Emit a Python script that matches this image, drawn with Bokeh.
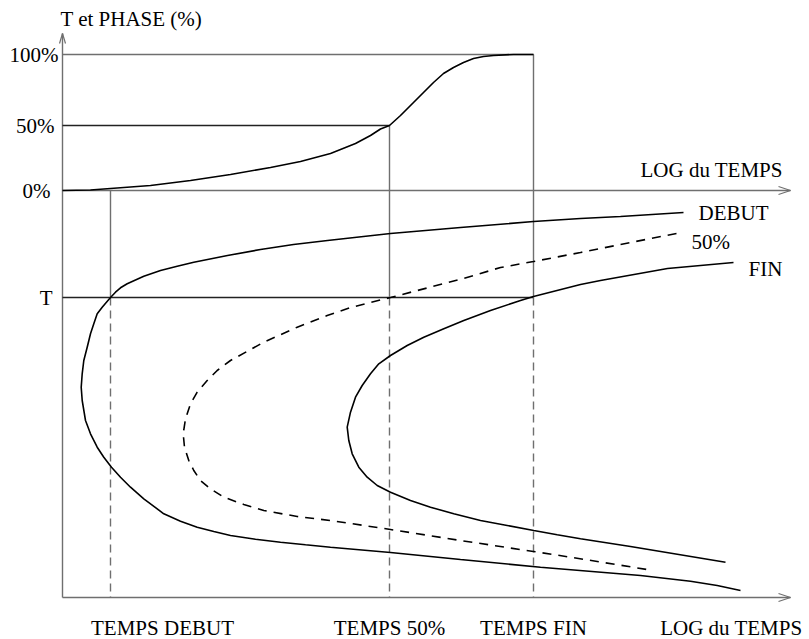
from bokeh.plotting import figure
from bokeh.models import Range1d
from bokeh.core.properties import value
from bokeh.embed import file_html
from bokeh.resources import INLINE

# ---- key levels (arbitrary schematic units: x = log of time, y = level) ----
t_debut, t_50, t_fin = 48, 327, 471          # TEMPS DEBUT / 50% / FIN
lvl_T = 300                                   # temperature T
lvl_0, lvl_50, lvl_100 = 407, 472, 543        # phase 0%, 50%, 100%
x_axis_end = 728
y_axis_end = 564

# ---- phase transformed vs log time at temperature T ----
trans_x = [0, 28, 48, 88, 128, 168, 208, 238, 268, 293, 308, 318, 327, 338, 351, 361, 371, 381, 391,
           401, 411, 421, 431, 451, 471]
trans_y = [407, 407.5, 409, 412, 417, 423, 430, 436, 444, 454, 462, 468.5, 472, 482, 495, 505, 515, 524,
           530, 535, 539, 541, 542, 543, 543]

# ---- TTT curves ----
debut_x = [621, 558, 518, 471, 398, 328, 265, 231, 198, 165, 131.3, 114.7, 98, 81.3, 64.7, 58, 53, 48,
           39.7, 34.7, 31.3, 28, 24.7, 21.3, 19.7, 18.7, 19.7, 23, 28, 34.7, 41.3, 49, 58, 68, 81.3,
           101.3, 118, 134.7, 151.3, 168, 193, 218, 243, 268, 328, 398, 478, 578, 628, 654.7, 678]
debut_y = [385, 381, 379, 376, 370, 364, 357, 353, 348, 342, 335.3, 331.3, 327, 321.3, 313.7, 309.7, 305.3, 300,
           290.3, 283.7, 273.7, 263.7, 250.3, 237, 223.7, 210.3, 197, 177, 163.7, 150.3, 140.3, 130.3, 120.3, 110.3, 98.7,
           83.7, 76.3, 70.3, 66, 62, 58.3, 55.3, 52.7, 50.3, 45, 38, 30.3, 22, 16.3, 12, 7]

mid_x = [614, 568, 518, 471, 438, 401, 328, 288, 264.7, 234.7, 201.3, 168, 154.7, 144.7, 134.7, 128, 123,
         120.7, 122, 126.3, 131.3, 138, 148, 161.3, 181.3, 201.3, 234.7, 268, 328, 398, 471, 491, 584.7]
mid_y = [364, 355, 345, 336, 330, 319, 300, 290, 282, 270.3, 255.3, 237, 227, 217, 205.3, 193.7, 178.7,
         163.7, 150.3, 137, 127, 117, 108.7, 100.3, 93, 87, 81, 77, 68, 57, 46, 43, 28]

fin_x = [671, 605, 538, 518, 471, 458, 428, 401.3, 381.3, 361.3, 344.7, 328, 316.3, 308, 299.7, 293, 288,
         284.7, 286.3, 289.7, 296.3, 304.7, 314.7, 328, 348, 368, 391.3, 418, 444.7, 471.3, 494.7, 518,
         568, 663]
fin_y = [335, 329, 317, 313, 301, 297, 287, 277, 268.7, 260.3, 252, 242, 233.7, 223.7, 212, 200.3, 185.3,
         170.3, 157, 143.7, 130.3, 120.3, 112, 105.3, 97, 90.3, 83.7, 77, 72, 67, 62.7, 58.7,
         51, 35.3]

# ---- texts ----
left_labels = ["100%", "50%", "0%", "T"]
left_label_x = [-4, -8, -12, -10]
left_label_y = [lvl_100, lvl_50, lvl_0, lvl_T]

curve_labels = ["DEBUT", "50%", "FIN", "LOG du TEMPS", "T et PHASE (%)"]
curve_label_x = [636, 629, 686, 578, -2]
curve_label_y = [385, 356, 329, 428, 579]

time_labels = ["TEMPS DEBUT", "TEMPS 50%", "TEMPS FIN"]
time_label_x = [100, t_50, t_fin]
time_label_y = [-30, -30, -30]

GRAY = "#6f6f6f"
FONT = value("Liberation Serif")
FS = "21px"

p = figure(width=809, height=639, x_range=Range1d(-62, 747), y_range=Range1d(-42, 597),
           x_axis_type=None, y_axis_type=None, toolbar_location=None,
           output_backend="svg", min_border=0, outline_line_color=None)
p.background_fill_color = "white"
p.border_fill_color = "white"

# axes
p.segment(x0=[0, 0, 0], y0=[0, 0, lvl_0], x1=[0, x_axis_end, x_axis_end], y1=[y_axis_end, 0, lvl_0],
          line_color=GRAY, line_width=1.4)
# arrow heads
hx = [x_axis_end, x_axis_end, x_axis_end, x_axis_end, 0, 0]
hy = [0, 0, lvl_0, lvl_0, y_axis_end, y_axis_end]
p.segment(x0=hx, y0=hy,
          x1=[x_axis_end - 12, x_axis_end - 12, x_axis_end - 12, x_axis_end - 12, -3, 3],
          y1=[4, -4, lvl_0 + 4, lvl_0 - 4, y_axis_end - 10, y_axis_end - 10],
          line_color=GRAY, line_width=1.2)

# horizontal guide lines
p.segment(x0=[0], y0=[lvl_100], x1=[t_fin], y1=[lvl_100], line_color=GRAY, line_width=1.3)
p.segment(x0=[0, 0], y0=[lvl_50, lvl_T], x1=[t_50, t_fin], y1=[lvl_50, lvl_T],
          line_color="#222222", line_width=1.3)

# vertical guide lines: solid above T, dashed below
p.segment(x0=[t_debut, t_50, t_fin], y0=[lvl_0, lvl_50, lvl_100],
          x1=[t_debut, t_50, t_fin], y1=[lvl_T, lvl_T, lvl_T], line_color=GRAY, line_width=1.4)
p.segment(x0=[t_debut, t_50, t_fin], y0=[lvl_T, lvl_T, lvl_T],
          x1=[t_debut, t_50, t_fin], y1=[0, 0, 0], line_color=GRAY, line_width=1.4, line_dash="8 5")

# curves
p.line(trans_x, trans_y, line_color="black", line_width=1.6)
p.line(debut_x, debut_y, line_color="black", line_width=1.6)
p.line(mid_x, mid_y, line_color="black", line_width=1.6, line_dash="9 7")
p.line(fin_x, fin_y, line_color="black", line_width=1.6)

# texts
p.text(x=left_label_x, y=left_label_y, text=left_labels, text_align="right", text_baseline="middle",
       text_font=FONT, text_font_size=FS, text_color="black")
p.text(x=curve_label_x, y=curve_label_y, text=curve_labels, text_align="left", text_baseline="middle",
       text_font=FONT, text_font_size=FS, text_color="black")
p.text(x=time_label_x, y=time_label_y, text=time_labels, text_align="center", text_baseline="middle",
       text_font=FONT, text_font_size=FS, text_color="black")
p.text(x=[740], y=[-30], text=["LOG du TEMPS"], text_align="right", text_baseline="middle",
       text_font=FONT, text_font_size=FS, text_color="black")

open("out.html", "w").write(file_html(p, INLINE))
